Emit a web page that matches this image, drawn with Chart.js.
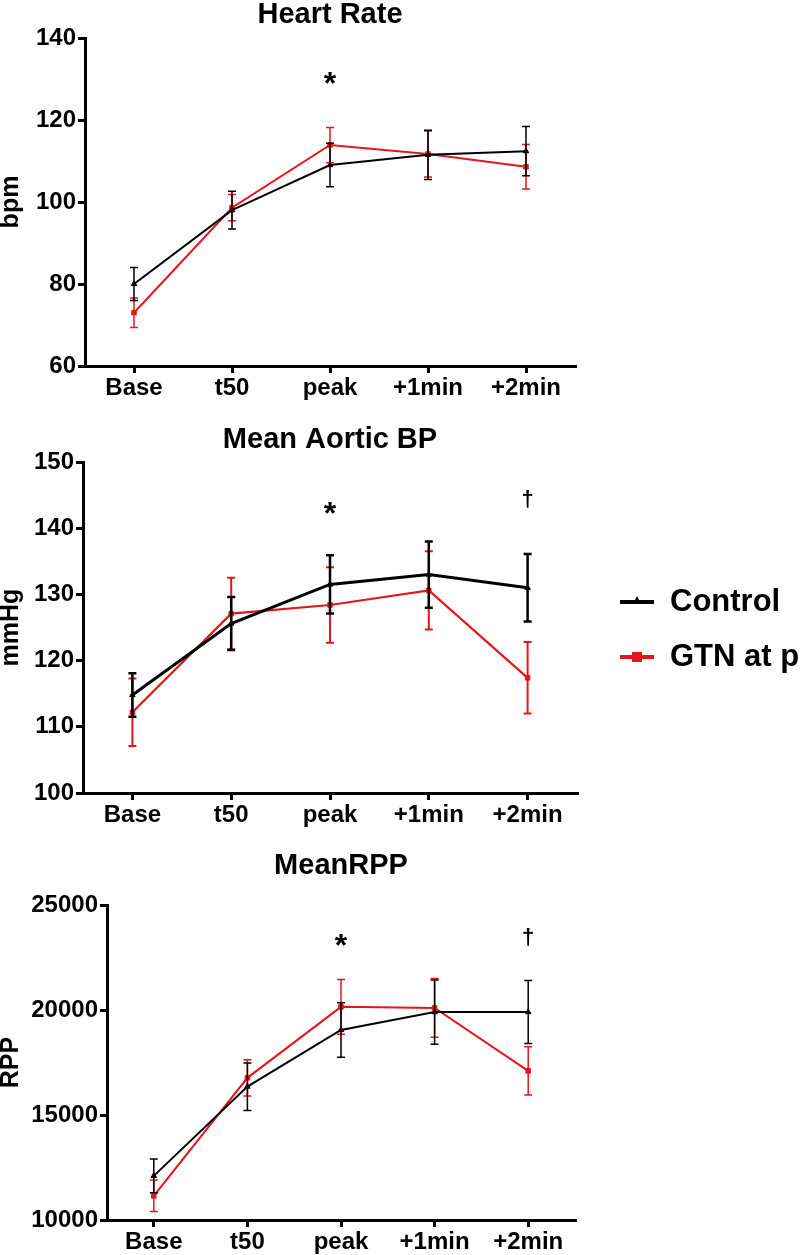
<!DOCTYPE html>
<html><head><meta charset="utf-8">
<script src="https://cdn.jsdelivr.net/npm/chart.js@4.4.0/dist/chart.umd.min.js"></script>
<style>
html,body{margin:0;padding:0;background:#fff;width:800px;height:1255px;overflow:hidden;position:relative;}
.wrap{position:absolute;left:0;width:800px;}
.lg{position:absolute;font-family:"Liberation Sans",Arial,sans-serif;font-weight:bold;font-size:31px;line-height:30px;color:#000;white-space:nowrap;}
.ln{position:absolute;height:4px;}
.mk{position:absolute;}
</style></head><body>
<div class="wrap" style="top:0;height:400px"><canvas id="c1"></canvas></div>
<div class="wrap" style="top:400px;height:435px"><canvas id="c2"></canvas></div>
<div class="wrap" style="top:835px;height:420px"><canvas id="c3"></canvas></div>

<div class="ln" style="left:620px;top:600px;width:34px;background:#000"></div>
<div class="mk" style="left:633px;top:596px;width:0;height:0;border-left:4px solid transparent;border-right:4px solid transparent;border-bottom:8px solid #000"></div>
<div class="lg" style="left:670px;top:586px">Control</div>
<div class="ln" style="left:620px;top:655px;width:34px;background:#e8141b"></div>
<div class="mk" style="left:632px;top:652px;width:10px;height:10px;background:#e8141b"></div>
<div class="lg" style="left:670px;top:641px">GTN at p</div>

<script>
// ---- data ----
const categories = ['Base', 't50', 'peak', '+1min', '+2min'];
const seriesNames = ['Control', 'GTN at peak'];

const hrControl = [80, 98, 109, 111.5, 112.4];
const hrControlErr = [4, 4.6, 5.3, 6, 6];
const hrGTN = [73, 98.6, 113.9, 111.7, 108.6];
const hrGTNErr = [3.6, 3.2, 4.3, 5.6, 5.4];

const mapControl = [114.8, 125.6, 131.5, 133, 131];
const mapControlErr = [3.3, 4, 4.4, 5, 5.1];
const mapGTN = [112.2, 127.1, 128.4, 130.6, 117.4];
const mapGTNErr = [5.1, 5.4, 5.7, 5.9, 5.4];

const rppControl = [12100, 16350, 19050, 19900, 19900];
const rppControlErr = [800, 1130, 1300, 1530, 1500];
const rppGTN = [11150, 16770, 20150, 20100, 17100];
const rppGTNErr = [750, 860, 1300, 1400, 1150];

const hrTicks = [60, 140, 20];
const mapTicks = [100, 150, 10];
const rppTicks = [10000, 25000, 5000];

const hrMarks = [{cat: 'peak', v: 130.8, t: '*'}];
const mapMarks = [{cat: 'peak', v: 143.4, t: '*'}, {cat: '+2min', v: 144.3, t: '†'}];
const rppMarks = [{cat: 'peak', v: 23450, t: '*'}, {cat: '+2min', v: 23480, t: '†'}];

// ---- drawing ----
const FONT = '"Liberation Sans", Arial, sans-serif';
const RED = '#e8141b';
const BLACK = '#000';

const extras = {
  id: 'extras',
  afterDatasetsDraw(chart, args, opts) {
    const ctx = chart.ctx, xs = chart.scales.x, ys = chart.scales.y;
    for (let i = chart.data.datasets.length - 1; i >= 0; i--) {
      const ds = chart.data.datasets[i];
      ctx.save();
      ctx.strokeStyle = ds.borderColor;
      ctx.lineWidth = ds.errWidth;
      ds.data.forEach((v, j) => {
        const px = xs.getPixelForValue(j);
        const e = ds.err[j];
        const y1 = ys.getPixelForValue(v + e), y2 = ys.getPixelForValue(v - e);
        const cap = 4;
        ctx.beginPath();
        ctx.moveTo(px, y1); ctx.lineTo(px, y2);
        ctx.moveTo(px - cap, y1); ctx.lineTo(px + cap, y1);
        ctx.moveTo(px - cap, y2); ctx.lineTo(px + cap, y2);
        ctx.stroke();
      });
      ctx.restore();
    }
    ctx.save();
    ctx.fillStyle = '#000';
    ctx.textAlign = 'center';
    (opts.marks || []).forEach(m => {
      const px = xs.getPixelForValue(categories.indexOf(m.cat));
      const py = ys.getPixelForValue(m.v);
      ctx.textBaseline = 'alphabetic';
      if (m.t === '*') {
        ctx.font = 'bold 32px ' + FONT;
        ctx.fillText(m.t, px, py + 0.58 * 32);
      } else {
        ctx.font = 'bold 22px ' + FONT;
        ctx.fillText(m.t, px, py + 0.3 * 22);
      }
    });
    ctx.font = 'bold 29px ' + FONT;
    ctx.textBaseline = 'middle';
    const ca = chart.chartArea;
    ctx.fillText(opts.title, (ca.left + ca.right) / 2, opts.titleY);
    ctx.restore();
  }
};

function makeChart(id, cfg) {
  const ds = (label, data, err, color, shape, lw, ew) => ({
    label, data, err, errWidth: ew,
    borderColor: color, backgroundColor: color,
    borderWidth: lw, pointStyle: shape, pointRadius: 3.2,
    pointBorderWidth: 1, tension: 0
  });
  return new Chart(document.getElementById(id), {
    type: 'line',
    data: {
      labels: categories,
      datasets: [
        ds(seriesNames[0], cfg.c, cfg.ce, BLACK, 'triangle', cfg.lw[0], cfg.ew[0]),
        ds(seriesNames[1], cfg.g, cfg.ge, RED, 'rect', cfg.lw[1], cfg.ew[1])
      ]
    },
    options: {
      responsive: true, maintainAspectRatio: false, animation: false,
      layout: {padding: {top: cfg.top, right: 800 - cfg.right, bottom: 0, left: 0}},
      plugins: {legend: {display: false}, tooltip: {enabled: false},
        extras: {marks: cfg.marks, title: cfg.title, titleY: cfg.titleY}},
      scales: {
        x: {
          offset: true,
          grid: {display: true, drawOnChartArea: false, drawTicks: true, tickLength: 7, lineWidth: 3, color: '#000', offset: false},
          border: {display: true, width: 3, color: '#000'},
          ticks: {font: {family: FONT, size: 24, weight: 'bold'}, color: '#000', padding: 1, maxRotation: 0, autoSkip: false},
          afterFit: s => { s.height = cfg.xh; }
        },
        y: {
          min: cfg.ticks[0], max: cfg.ticks[1],
          grid: {display: true, drawOnChartArea: false, drawTicks: true, tickLength: 7, lineWidth: 3, color: '#000'},
          border: {display: true, width: 3, color: '#000'},
          ticks: {stepSize: cfg.ticks[2], font: {family: FONT, size: 24, weight: 'bold'}, color: '#000', padding: 2,
            callback: v => String(v)},
          title: {display: true, text: cfg.ytitle, color: '#000', font: {family: FONT, size: 25, weight: 'bold', lineHeight: 0.85}, padding: 0},
          afterFit: s => { s.width = cfg.left; }
        }
      }
    },
    plugins: [extras]
  });
}

makeChart('c1', {c: hrControl, ce: hrControlErr, g: hrGTN, ge: hrGTNErr, ticks: hrTicks, marks: hrMarks,
  title: 'Heart Rate', titleY: 15, ytitle: 'bpm', top: 38, right: 575, left: 85, xh: 34, lw: [2, 2], ew: [1.5, 1.5]});
makeChart('c2', {c: mapControl, ce: mapControlErr, g: mapGTN, ge: mapGTNErr, ticks: mapTicks, marks: mapMarks,
  title: 'Mean Aortic BP', titleY: 40, ytitle: 'mmHg', top: 62, right: 577, left: 83, xh: 42, lw: [3, 2.2], ew: [2.5, 2]});
makeChart('c3', {c: rppControl, ce: rppControlErr, g: rppGTN, ge: rppGTNErr, ticks: rppTicks, marks: rppMarks,
  title: 'MeanRPP', titleY: 31, ytitle: 'RPP', top: 70, right: 575, left: 107, xh: 35, lw: [2, 2], ew: [1.5, 1.5]});
</script>
</body></html>
